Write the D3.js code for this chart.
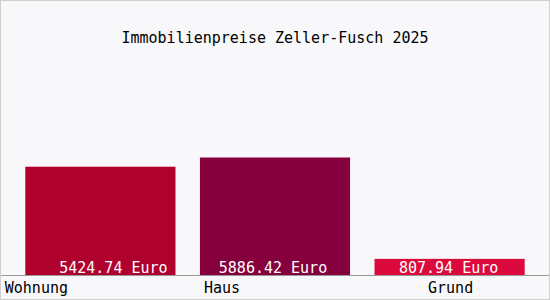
<!DOCTYPE html>
<html>
<head>
<meta charset="utf-8">
<script src="https://cdn.jsdelivr.net/npm/d3@7"></script>
<style>
  body { margin: 0; background: #fff; }
  svg { display: block; }
  text { font-family: "DejaVu Sans Mono", "Liberation Mono", monospace; }
</style>
</head>
<body>
<svg width="550" height="300"></svg>
<script>
var title = "Immobilienpreise Zeller-Fusch 2025";
var categories = ["Wohnung", "Haus", "Grund"];
var prices = [5424.74, 5886.42, 807.94];
var barColors = ["#b0002e", "#85003c", "#dc0a3c"];

var svg = d3.select("svg"),
  width = +svg.attr("width"),
  height = +svg.attr("height");

// background + thin frame
svg.append("rect")
  .attr("x", 0.5).attr("y", 0.5)
  .attr("width", width - 1).attr("height", height - 1)
  .attr("fill", "#f8f8fa")
  .attr("stroke", "#cfcfcf");

var x = d3.scaleBand()
  .domain(categories)
  .range([0, 550])
  .paddingInner(0.14)
  .paddingOuter(0.145);

var y = d3.scaleLinear()
  .domain([0, d3.max(prices) * 2])
  .range([275, 40]);

svg.append("text")
  .attr("x", width / 2)
  .attr("y", 43)
  .attr("text-anchor", "middle")
  .attr("font-size", 15)
  .attr("fill", "#000")
  .text(title);

svg.append("g")
  .selectAll("rect")
  .data(prices)
  .enter().append("rect")
  .attr("x", function(d, i) { return x(categories[i]); })
  .attr("y", function(d) { return y(d); })
  .attr("width", x.bandwidth())
  .attr("height", function(d) { return y(0) - y(d); })
  .attr("fill", function(d, i) { return barColors[i]; });

// value labels sit at the bottom of each bar
var valueShift = [13, -2, -1];
svg.append("g")
  .selectAll("text")
  .data(prices)
  .enter().append("text")
  .attr("x", function(d, i) { return x(categories[i]) + x.bandwidth() / 2 + valueShift[i]; })
  .attr("y", 273)
  .attr("text-anchor", "middle")
  .attr("font-size", 15)
  .attr("fill", "#fff")
  .text(function(d) { return d3.format(".2f")(d) + " Euro"; });

// base line
svg.append("line")
  .attr("x1", 1).attr("x2", width - 1)
  .attr("y1", 275.5).attr("y2", 275.5)
  .attr("stroke", "#999");

var labelShift = [-64, -53, 1];
svg.append("g")
  .selectAll("text")
  .data(categories)
  .enter().append("text")
  .attr("x", function(d, i) { return x(d) + x.bandwidth() / 2 + labelShift[i]; })
  .attr("y", 293)
  .attr("text-anchor", "middle")
  .attr("font-size", 15)
  .attr("fill", "#000")
  .text(function(d) { return d; });
</script>
</body>
</html>
